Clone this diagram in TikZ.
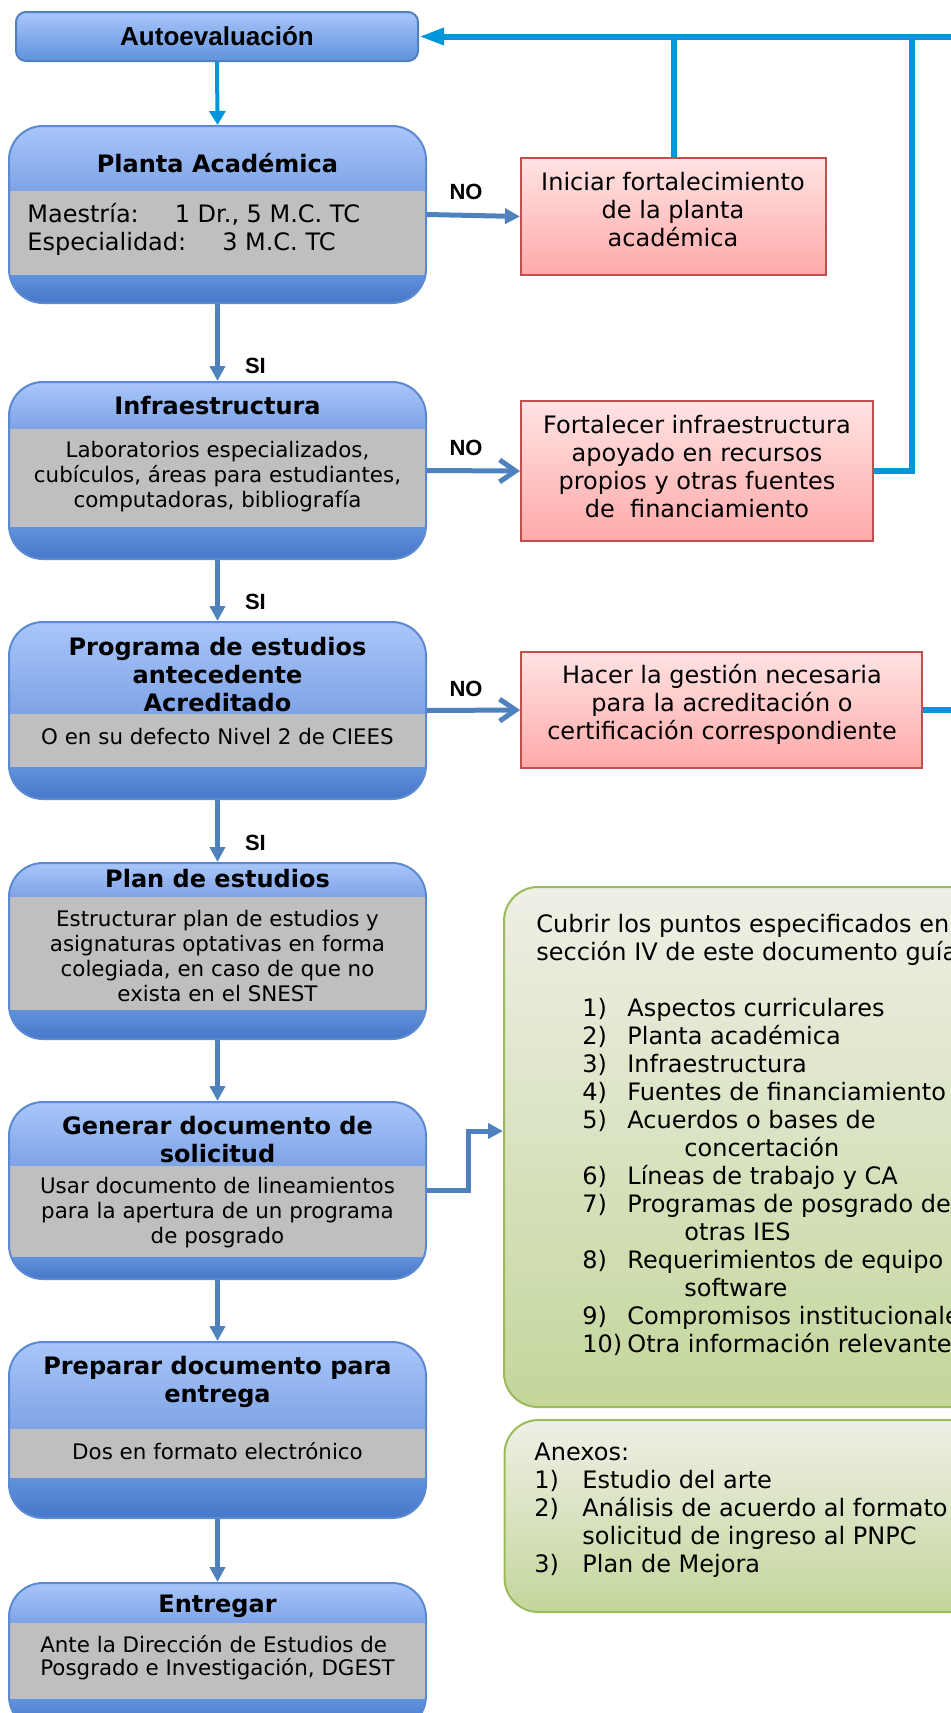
\documentclass[tikz,border=0pt]{standalone}
\usepackage{fontspec}
\setmainfont{DejaVu Sans}
\newfontfamily\arialfont{Liberation Sans}
\usetikzlibrary{arrows.meta,positioning}
\definecolor{azulclaro}{HTML}{A9C6FA}
\definecolor{azulmedio}{HTML}{7EA3E6}
\definecolor{azulbajo}{HTML}{6092DC}
\definecolor{azuloscuro}{HTML}{4677C8}
\definecolor{azulborde}{HTML}{5B8AD2}
\definecolor{gris}{HTML}{BFBFBF}
\definecolor{rojoclaro}{HTML}{FFE3E3}
\definecolor{rojomedio}{HTML}{FFA9A9}
\definecolor{rojoborde}{HTML}{C0504D}
\definecolor{verdeclaro}{HTML}{EFEFE6}
\definecolor{verdemedio}{HTML}{C3D69B}
\definecolor{verdeborde}{HTML}{9BBB59}
\definecolor{flujoazul}{HTML}{4F81BD}
\definecolor{retroazul}{HTML}{0096DB}
\tikzset{
  inicio/.style={draw=flujoazul,line width=1pt,rounded corners=5pt,top color=azulclaro,bottom color=azulbajo,
    minimum width=201pt,minimum height=24.5pt,inner sep=0pt,font=\arialfont\bfseries\fontsize{13}{15}\selectfont},
  etapa/.style={draw=azulborde,line width=1pt,rounded corners=17pt,minimum width=208.5pt,inner sep=0pt},
  accion/.style={draw=rojoborde,line width=1pt,top color=rojoclaro,bottom color=rojomedio,inner sep=0pt},
  nota/.style={draw=verdeborde,line width=1pt,rounded corners=17pt,top color=verdeclaro,bottom color=verdemedio,inner sep=0pt},
  titulo/.style={font=\bfseries\fontsize{12}{14}\selectfont,align=center,inner sep=0pt},
  cuerpo/.style={font=\fontsize{10.7}{12.5}\selectfont,align=center,inner sep=0pt},
  texto/.style={font=\fontsize{12}{14}\selectfont,align=center,inner sep=0pt},
  etiqueta/.style={font=\arialfont\bfseries\fontsize{11}{13}\selectfont,inner sep=0pt},
  flujo/.style={draw=flujoazul,line width=2.5pt,-{Triangle[length=7.5pt,width=7.5pt]}},
  abierta/.style={draw=flujoazul,line width=2.5pt,-{Straight Barb[length=8pt,width=11pt]}},
  retro/.style={draw=retroazul,line width=3pt},
}
% caja azul: nombre, arriba, fin titulo, fin gris, abajo
\newcommand{\etapa}[5]{%
  \begin{scope}
    \clip[rounded corners=17pt] (9,#2) rectangle (426,#5);
    \shade[top color=azulclaro,bottom color=azulmedio] (9,#2) rectangle (426,#3);
    \fill[gris] (9,#3) rectangle (426,#4);
    \shade[top color=azulbajo,bottom color=azuloscuro] (9,#4) rectangle (426,#5);
  \end{scope}
  \node[etapa,minimum height={(#5-#2)*0.5pt}] (#1) at (217.5,{(#2+#5)/2}) {};
}

\begin{document}
\begin{tikzpicture}[x=0.5pt,y=-0.5pt]
\useasboundingbox (0,0) rectangle (951,1713);
\clip (0,0) rectangle (951,1713);

\node[inicio] (auto) at (217,36.5) {Autoevaluación};

\etapa{planta}{126}{191}{275}{303}
\node[titulo] (planta-t) at (217.5,163) {Planta Académica};
\node[texto,align=left,anchor=west] (planta-c) at (27,229)
  {Maestría:\hspace{18pt}1 Dr., 5 M.C. TC\\Especialidad:\hspace{18pt}3 M.C. TC};

\etapa{infra}{382}{429}{527}{559}
\node[titulo] (infra-t) at (217.5,406) {Infraestructura};
\node[cuerpo] (infra-c) at (217.5,477)
  {Laboratorios especializados,\\cubículos, áreas para estudiantes,\\computadoras, bibliografía};

\etapa{programa}{622}{714}{767}{799}
\node[titulo] (programa-t) at (217.5,675) {Programa de estudios\\antecedente\\Acreditado};
\node[cuerpo] (programa-c) at (217.5,737) {O en su defecto Nivel 2 de CIEES};

\etapa{plan}{863}{897}{1010}{1039}
\node[titulo] (plan-t) at (217.5,879) {Plan de estudios};
\node[cuerpo] (plan-c) at (217.5,956.5)
  {Estructurar plan de estudios y\\asignaturas optativas en forma\\colegiada, en caso de que no\\exista en el SNEST};

\etapa{generar}{1102}{1166}{1257}{1279}
\node[titulo] (generar-t) at (217.5,1140) {Generar documento de\\solicitud};
\node[cuerpo] (generar-c) at (217.5,1213)
  {Usar documento de lineamientos\\para la apertura de un programa\\de posgrado};

\etapa{preparar}{1342}{1429}{1478}{1518}
\node[titulo] (preparar-t) at (217.5,1381.5) {Preparar documento para\\entrega};
\node[cuerpo] (preparar-c) at (217.5,1451) {Dos en formato electrónico};

\etapa{entregar}{1583}{1623}{1699}{1730}
\node[titulo] (entregar-t) at (217.5,1606) {Entregar};
\node[cuerpo,align=left,font=\fontsize{10.7}{11.5}\selectfont] (entregar-c) at (217.5,1657.5)
  {Ante la Dirección de Estudios de\\Posgrado e Investigación, DGEST};

% acciones
\node[accion,minimum width=152.5pt,minimum height=58.5pt] (iniciar) at (673.5,216.5) {};
\node[texto] (iniciar-t) at (673,210) {Iniciar fortalecimiento\\de la planta\\académica};
\node[accion,minimum width=176pt,minimum height=70pt] (fortalecer) at (697,471) {};
\node[texto] (fortalecer-t) at (697,467)
  {Fortalecer infraestructura\\apoyado en recursos\\propios y otras fuentes\\de\ \ financiamiento};
\node[accion,minimum width=200.5pt,minimum height=58pt] (hacer) at (721.5,710) {};
\node[texto] (hacer-t) at (722,704)
  {Hacer la gestión necesaria\\para la acreditación o\\certificación correspondiente};

% notas
\node[nota,minimum width=253pt,minimum height=260pt] (cubrir) at (757,1147) {};
\node[texto,align=left,anchor=north west] (cubrir-t) at (536,914)
  {Cubrir los puntos especificados en\\sección IV de este documento guía\\[14pt]
   \hspace*{23pt}\makebox[22.5pt][l]{1)}Aspectos curriculares\\
   \hspace*{23pt}\makebox[22.5pt][l]{2)}Planta académica\\
   \hspace*{23pt}\makebox[22.5pt][l]{3)}Infraestructura\\
   \hspace*{23pt}\makebox[22.5pt][l]{4)}Fuentes de financiamiento\\
   \hspace*{23pt}\makebox[22.5pt][l]{5)}Acuerdos o bases de\\
   \hspace*{74pt}concertación\\
   \hspace*{23pt}\makebox[22.5pt][l]{6)}Líneas de trabajo y CA\\
   \hspace*{23pt}\makebox[22.5pt][l]{7)}Programas de posgrado de\\
   \hspace*{74pt}otras IES\\
   \hspace*{23pt}\makebox[22.5pt][l]{8)}Requerimientos de equipo\\
   \hspace*{74pt}software\\
   \hspace*{23pt}\makebox[22.5pt][l]{9)}Compromisos institucionales\\
   \hspace*{23pt}\makebox[22.5pt][l]{10)}Otra información relevante};
\node[nota,minimum width=253pt,minimum height=96pt] (anexos) at (757.5,1516) {};
\node[texto,align=left,anchor=north west] (anexos-t) at (534,1443)
  {Anexos:\\
   \makebox[24pt][l]{1)}Estudio del arte\\
   \makebox[24pt][l]{2)}Análisis de acuerdo al formato\\
   \hspace*{24pt}solicitud de ingreso al PNPC\\
   \makebox[24pt][l]{3)}Plan de Mejora};

% conectores
\coordinate (borde) at (960,36.5);
\coordinate (codo) at (912,36.5);
\draw[retro,-{Triangle[length=12.5pt,width=8pt]}] (borde) -- (auto.east);
\draw[retro] (iniciar.north) -- (iniciar.north |- borde);
\draw[retro] (fortalecer.east) -| (codo);
\draw[retro] (hacer.east) -- (hacer.east -| borde);
\draw[retro,line width=2pt,-{Triangle[length=7pt,width=8pt]}] (auto.south) -- (planta.north);

\path
  (planta.east) edge[flujo] node[etiqueta,pos=0.42,above=6.8pt] (no1) {NO} (iniciar.west)
  (planta.south) edge[flujo] node[etiqueta,pos=0.81,right=12.5pt] (si1) {SI} (infra.north)
  (infra.south) edge[flujo] node[etiqueta,pos=0.68,right=12.5pt] (si2) {SI} (programa.north)
  (programa.south) edge[flujo] node[etiqueta,pos=0.69,right=12.5pt] (si3) {SI} (plan.north)
  (plan.south) edge[flujo] (generar.north)
  (generar.south) edge[flujo] (preparar.north)
  (preparar.south) edge[flujo] (entregar.north)
  (infra.east) edge[abierta] node[etiqueta,pos=0.42,above=6.3pt] (no2) {NO} (fortalecer.west)
  (programa.east) edge[abierta] node[etiqueta,pos=0.42,above=5.3pt] (no3) {NO} (hacer.west);
\draw[flujo] (generar.east) -- ++(41,0) |- ([yshift=8pt]cubrir.west);
\end{tikzpicture}
\end{document}
